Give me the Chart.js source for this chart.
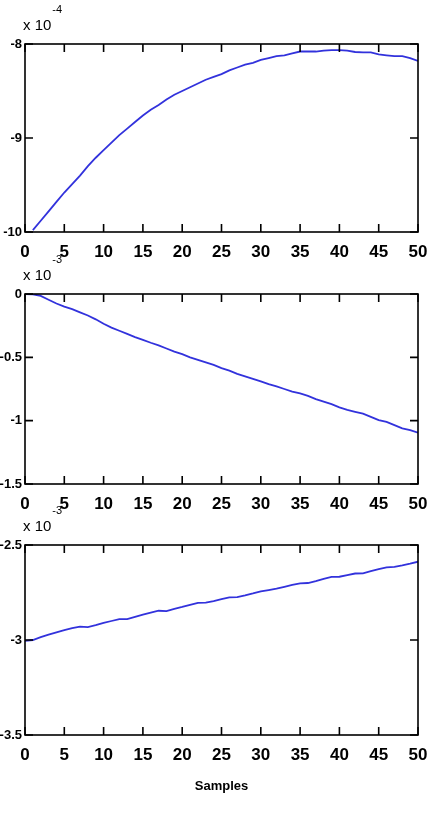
<!DOCTYPE html>
<html>
<head>
<meta charset="utf-8">
<script src="https://cdn.jsdelivr.net/npm/chart.js@4.4.1/dist/chart.umd.min.js"></script>
<style>
  html, body { margin: 0; padding: 0; background: #fff; }
  #wrap { position: relative; width: 446px; height: 813px; overflow: hidden; }
  canvas { position: absolute; left: 0; }
</style>
</head>
<body>
<div id="wrap">
  <canvas id="c1" width="446" height="268" style="top:0px"></canvas>
  <canvas id="c2" width="446" height="266" style="top:254px"></canvas>
  <canvas id="c3" width="446" height="308" style="top:505px"></canvas>
</div>
<script>
// samples on the x axis
const samples1 = [1,2,3,4,5,6,7,8,9,10,11,12,13,14,15,16,17,18,19,20,21,22,23,24,25,
  26,27,28,29,30,31,32,33,34,35,36,37,38,39,40,41,42,43,44,45,46,47,48,49,50];
const samples0 = [0,1,2,3,4,5,6,7,8,9,10,11,12,13,14,15,16,17,18,19,20,21,22,23,24,25,
  26,27,28,29,30,31,32,33,34,35,36,37,38,39,40,41,42,43,44,45,46,47,48,49,50];
const xTicks = [0,5,10,15,20,25,30,35,40,45,50];

// top panel, units of 1e-4
const series1 = [-9.98,-9.88,-9.78,-9.68,-9.58,-9.49,-9.40,-9.30,-9.21,-9.13,
  -9.05,-8.97,-8.90,-8.83,-8.76,-8.70,-8.65,-8.59,-8.54,-8.50,
  -8.46,-8.42,-8.38,-8.35,-8.32,-8.28,-8.25,-8.22,-8.20,-8.17,
  -8.15,-8.13,-8.12,-8.10,-8.08,-8.08,-8.08,-8.07,-8.065,-8.065,
  -8.07,-8.085,-8.09,-8.09,-8.11,-8.12,-8.13,-8.13,-8.15,-8.18];

// middle panel, units of 1e-3
const series2 = [0.000,-0.002,-0.015,-0.045,-0.075,-0.100,-0.120,-0.145,-0.170,-0.200,
  -0.235,-0.265,-0.290,-0.315,-0.340,-0.362,-0.385,-0.405,-0.430,-0.455,
  -0.475,-0.500,-0.520,-0.540,-0.560,-0.585,-0.605,-0.630,-0.650,-0.670,
  -0.690,-0.712,-0.730,-0.750,-0.770,-0.785,-0.805,-0.830,-0.850,-0.870,
  -0.895,-0.915,-0.930,-0.945,-0.970,-0.995,-1.010,-1.035,-1.060,-1.075,-1.095];

// bottom panel, units of 1e-3
const series3 = [-3.005,-3.000,-2.985,-2.972,-2.960,-2.948,-2.938,-2.930,-2.932,-2.922,
  -2.910,-2.900,-2.890,-2.890,-2.878,-2.866,-2.856,-2.846,-2.848,-2.836,
  -2.826,-2.815,-2.805,-2.803,-2.795,-2.785,-2.776,-2.774,-2.765,-2.755,
  -2.744,-2.737,-2.730,-2.720,-2.710,-2.702,-2.700,-2.690,-2.678,-2.668,
  -2.667,-2.658,-2.650,-2.649,-2.638,-2.627,-2.618,-2.615,-2.607,-2.598,-2.588];

const yTicks1 = [-10, -9, -8];
const yTicks2 = [-1.5, -1, -0.5, 0];
const yTicks3 = [-3.5, -3, -2.5];

const FONT = "'Liberation Sans', Arial, sans-serif";
const LINE = '#3232dc';

// matlab style box, inward ticks and the "x 10^n" multiplier
const matlabBox = {
  id: 'matlabBox',
  afterDraw(chart, args, opts) {
    const ctx = chart.ctx, a = chart.chartArea;
    const x = chart.scales.x, y = chart.scales.y;
    ctx.save();
    ctx.strokeStyle = '#000';
    ctx.lineWidth = 1.6;
    ctx.strokeRect(a.left, a.top, a.right - a.left, a.bottom - a.top);
    ctx.beginPath();
    x.ticks.forEach(t => {
      const px = x.getPixelForValue(t.value);
      ctx.moveTo(px, a.bottom); ctx.lineTo(px, a.bottom - 8);
      ctx.moveTo(px, a.top); ctx.lineTo(px, a.top + 8);
    });
    y.ticks.forEach(t => {
      const py = y.getPixelForValue(t.value);
      ctx.moveTo(a.left, py); ctx.lineTo(a.left + 8, py);
      ctx.moveTo(a.right, py); ctx.lineTo(a.right - 8, py);
    });
    ctx.stroke();

    ctx.fillStyle = '#000';
    ctx.textBaseline = 'alphabetic';
    ctx.textAlign = 'left';
    ctx.font = '15px ' + FONT;
    ctx.fillText('x 10', a.left - 2, a.top - 14);
    const w = ctx.measureText('x 10').width;
    ctx.font = '11px ' + FONT;
    ctx.fillText(opts.exp, a.left - 1 + w, a.top - 31);
    ctx.restore();
  }
};

function makeChart(id, xs, ys, yt, exp, xh, withTitle) {
  const ctx = document.getElementById(id).getContext('2d');
  return new Chart(ctx, {
    type: 'line',
    data: {
      datasets: [{
        data: xs.map((s, i) => ({ x: s, y: ys[i] })),
        borderColor: LINE,
        borderWidth: 1.8,
        pointRadius: 0,
        fill: false,
        tension: 0
      }]
    },
    options: {
      responsive: false,
      animation: false,
      devicePixelRatio: 1,
      layout: { padding: { top: id === 'c1' ? 44 : 40, right: 28, left: 0, bottom: 0 } },
      plugins: {
        legend: { display: false },
        tooltip: { enabled: false },
        matlabBox: { exp: exp }
      },
      scales: {
        x: {
          type: 'linear',
          min: xTicks[0],
          max: xTicks[xTicks.length - 1],
          afterBuildTicks: s => { s.ticks = xTicks.map(v => ({ value: v })); },
          afterFit: s => { s.height = xh; },
          grid: { display: false, drawTicks: false },
          border: { display: false },
          ticks: {
            color: '#000',
            padding: 10,
            maxRotation: 0,
            autoSkip: false,
            font: { family: FONT, size: 17, weight: 'bold' }
          },
          title: {
            display: withTitle,
            text: 'Samples',
            color: '#000',
            padding: { top: 0, bottom: 19 },
            font: { family: FONT, size: 13, weight: 'bold' }
          }
        },
        y: {
          min: yt[0],
          max: yt[yt.length - 1],
          afterBuildTicks: s => { s.ticks = yt.map(v => ({ value: v })); },
          afterFit: s => { s.width = 25; },
          grid: { display: false, drawTicks: false },
          border: { display: false },
          ticks: {
            color: '#000',
            padding: 3,
            autoSkip: false,
            callback: v => String(Math.round(v * 100) / 100),
            font: { family: FONT, size: 13, weight: 'bold' }
          }
        }
      }
    },
    plugins: [matlabBox]
  });
}

makeChart('c1', samples1, series1, yTicks1, '-4', 36, false);
makeChart('c2', samples0, series2, yTicks2, '-3', 36, false);
makeChart('c3', samples0, series3, yTicks3, '-3', 78, true);
</script>
</body>
</html>
